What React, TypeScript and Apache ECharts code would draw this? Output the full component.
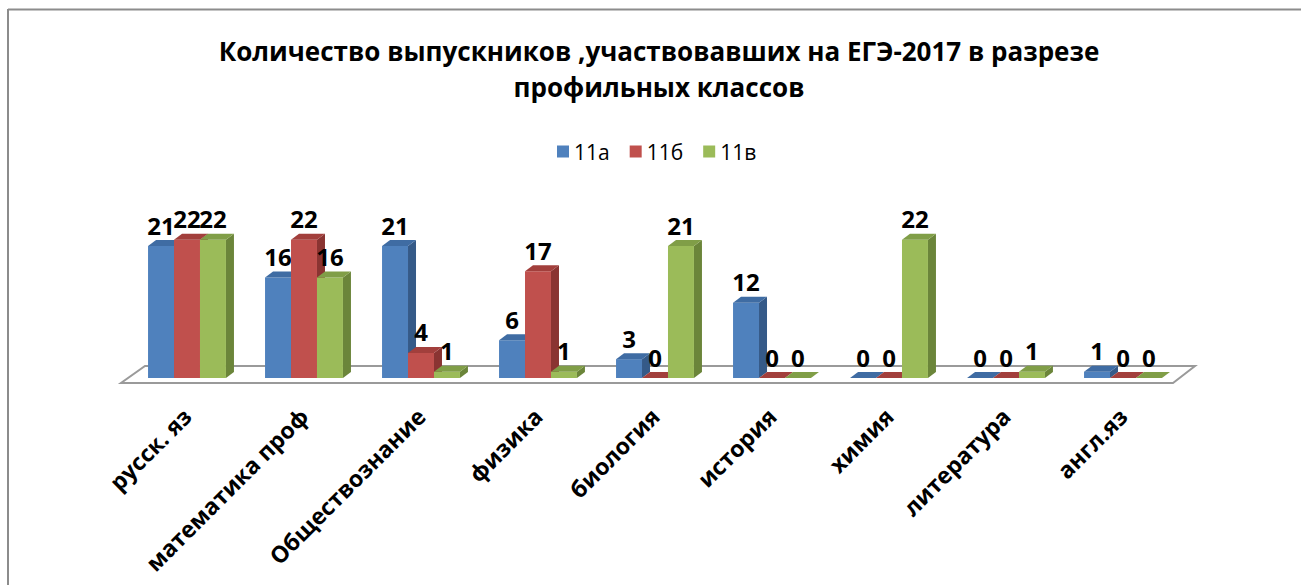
import React, { useEffect, useRef } from "react";
import * as echarts from "echarts";

const categories = [
  "русск. яз",
  "математика проф",
  "Обществознание",
  "физика",
  "биология",
  "история",
  "химия",
  "литература",
  "англ.яз",
];
const seriesNames = ["11а", "11б", "11в"];
const values11a = [21, 16, 21, 6, 3, 12, 0, 0, 1];
const values11b = [22, 22, 4, 17, 0, 0, 0, 0, 0];
const values11v = [22, 16, 1, 1, 21, 0, 22, 1, 0];
const titleText = "Количество выпускников ,участвовавших на ЕГЭ-2017 в разрезе\nпрофильных классов";

const palettes = [
  { front: "#4F81BD", top: "#3F6CA3", side: "#355A88" },
  { front: "#C0504D", top: "#A23F3C", side: "#8A3432" },
  { front: "#9BBB59", top: "#809E47", side: "#6B853A" },
];

const FONT = "'Open Sans', 'Noto Sans', sans-serif";

function makeRender(sIdx: number) {
  return (params: any, api: any) => {
    const cat = api.value(0);
    const val = api.value(1);
    const base = api.coord([cat, 0]);
    const top = api.coord([cat, val]);
    const band = api.size([1, 0])[0];
    const bw = band * 0.222;
    const x0 = base[0] - 1.5 * bw + sIdx * bw;
    const x1 = x0 + bw;
    const y0 = base[1];
    const y1 = top[1];
    const dx = 8;
    const dy = 6;
    const p = palettes[sIdx];
    return {
      type: "group",
      children: [
        {
          type: "polygon",
          shape: { points: [[x1, y1], [x1 + dx, y1 - dy], [x1 + dx, y0 - dy], [x1, y0]] },
          style: { fill: p.side },
        },
        {
          type: "rect",
          shape: { x: x0, y: y1, width: bw, height: Math.max(y0 - y1, 0) },
          style: { fill: p.front },
        },
        {
          type: "polygon",
          shape: { points: [[x0, y1], [x1, y1], [x1 + dx, y1 - dy], [x0 + dx, y1 - dy]] },
          style: { fill: p.top },
        },
        {
          type: "text",
          x: x0 + bw / 2,
          y: y1 - dy - 3,
          style: {
            text: String(val),
            fill: "#000",
            font: `bold 24px ${FONT}`,
            textAlign: "center",
            textVerticalAlign: "bottom",
          },
          z2: 100,
        },
      ],
    };
  };
}

function renderFloor(params: any, api: any) {
  const cs = params.coordSys;
  const gx = cs.x;
  const gy = cs.y + cs.height;
  const gw = cs.width;
  return {
    type: "polygon",
    shape: {
      points: [
        [gx - 7.5, gy + 5],
        [gx + gw - 8.5, gy + 5],
        [gx + gw + 13.5, gy - 12],
        [gx + 16.5, gy - 12],
      ],
    },
    style: { fill: "#fff", stroke: "#9a9a9a", lineWidth: 2 },
  };
}

export default function App() {
  const ref = useRef<HTMLDivElement>(null);
  useEffect(() => {
    document.body.style.margin = "0";
    if (!ref.current) return;
    const chart = echarts.init(ref.current, null, { renderer: "svg" });
    const all = [values11a, values11b, values11v];
    chart.setOption({
      animation: false,
      backgroundColor: "#fff",
      grid: { left: 128.5, right: 119.5, top: 221, bottom: 207 },
      legend: {
        data: seriesNames,
        left: 552,
        top: 136,
        icon: "rect",
        itemWidth: 12,
        itemHeight: 12,
        itemGap: 20,
        textStyle: { fontSize: 21, color: "#000", fontFamily: FONT },
      },
      graphic: [
        {
          type: "text",
          x: 659,
          y: 69,
          style: {
            text: titleText,
            font: `bold 26px ${FONT}`,
            fill: "#000",
            textAlign: "center",
            textVerticalAlign: "middle",
            lineHeight: 36,
          },
        },
        {
          type: "line",
          shape: { x1: 8, y1: 9.5, x2: 1301, y2: 9.5 },
          style: { stroke: "#8c8c8c", lineWidth: 2 },
        },
        {
          type: "line",
          shape: { x1: 8, y1: 9, x2: 8, y2: 585 },
          style: { stroke: "#8c8c8c", lineWidth: 2 },
        },
      ],
      xAxis: {
        type: "category",
        data: categories,
        axisLine: { show: false },
        axisTick: { show: false },
        axisLabel: {
          interval: 0,
          rotate: 45,
          margin: 34,
          fontSize: 23,
          fontWeight: "bold",
          color: "#000",
          fontFamily: FONT,
        },
      },
      yAxis: {
        type: "value",
        min: 0,
        max: 25,
        show: false,
        splitLine: { show: false },
      },
      series: [
        {
          type: "custom",
          name: "floor",
          renderItem: renderFloor,
          data: [[0, 0]],
          z: 1,
          silent: true,
        },
        ...all.map((vals, i) => ({
          type: "custom",
          name: seriesNames[i],
          itemStyle: { color: palettes[i].front },
          renderItem: makeRender(i),
          encode: { x: 0, y: 1 },
          data: vals.map((v, k) => [k, v]),
          z: 2 + i,
        })),
      ],
    });
    return () => chart.dispose();
  }, []);
  return <div ref={ref} style={{ width: 1301, height: 585 }} />;
}
